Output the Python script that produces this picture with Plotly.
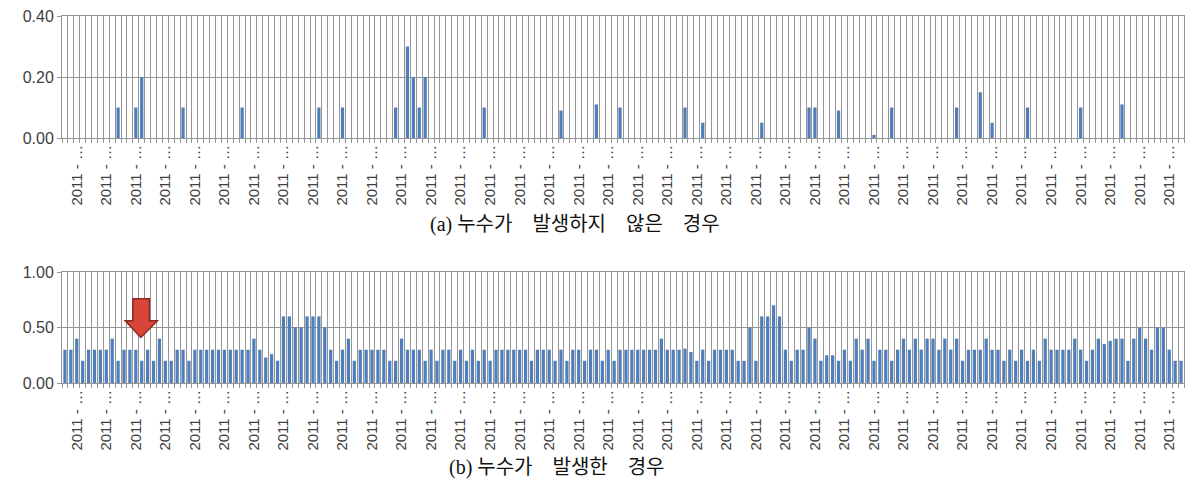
import plotly.graph_objects as go

# ---------------- data ----------------
# (a) no leakage: 190 time steps
values_a = [
    0, 0, 0, 0, 0, 0, 0, 0, 0, 0.10,
    0, 0, 0.10, 0.20, 0, 0, 0, 0, 0, 0,
    0.10, 0, 0, 0, 0, 0, 0, 0, 0, 0,
    0.10, 0, 0, 0, 0, 0, 0, 0, 0, 0,
    0, 0, 0, 0.10, 0, 0, 0, 0.10, 0, 0,
    0, 0, 0, 0, 0, 0, 0.10, 0, 0.30, 0.20,
    0.10, 0.20, 0, 0, 0, 0, 0, 0, 0, 0,
    0, 0.10, 0, 0, 0, 0, 0, 0, 0, 0,
    0, 0, 0, 0, 0.09, 0, 0, 0, 0, 0,
    0.11, 0, 0, 0, 0.10, 0, 0, 0, 0, 0,
    0, 0, 0, 0, 0, 0.10, 0, 0, 0.05, 0,
    0, 0, 0, 0, 0, 0, 0, 0, 0.05, 0,
    0, 0, 0, 0, 0, 0, 0.10, 0.10, 0, 0,
    0, 0.09, 0, 0, 0, 0, 0, 0.01, 0, 0,
    0.10, 0, 0, 0, 0, 0, 0, 0, 0, 0,
    0, 0.10, 0, 0, 0, 0.15, 0, 0.05, 0, 0,
    0, 0, 0, 0.10, 0, 0, 0, 0, 0, 0,
    0, 0, 0.10, 0, 0, 0, 0, 0, 0, 0.11,
    0, 0, 0, 0, 0, 0, 0, 0, 0, 0,
]

# (b) leakage: 190 time steps
values_b = [
    0.30, 0.30, 0.40, 0.20, 0.30, 0.30, 0.30, 0.30, 0.40, 0.20,
    0.30, 0.30, 0.30, 0.20, 0.30, 0.20, 0.40, 0.20, 0.20, 0.30,
    0.30, 0.20, 0.30, 0.30, 0.30, 0.30, 0.30, 0.30, 0.30, 0.30,
    0.30, 0.30, 0.40, 0.30, 0.23, 0.26, 0.20, 0.60, 0.60, 0.50,
    0.50, 0.60, 0.60, 0.60, 0.50, 0.30, 0.20, 0.30, 0.40, 0.20,
    0.30, 0.30, 0.30, 0.30, 0.30, 0.20, 0.20, 0.40, 0.30, 0.30,
    0.30, 0.20, 0.30, 0.20, 0.30, 0.30, 0.20, 0.30, 0.20, 0.30,
    0.20, 0.30, 0.20, 0.30, 0.30, 0.30, 0.30, 0.30, 0.30, 0.20,
    0.30, 0.30, 0.30, 0.20, 0.30, 0.20, 0.30, 0.30, 0.20, 0.30,
    0.30, 0.20, 0.30, 0.20, 0.30, 0.30, 0.30, 0.30, 0.30, 0.30,
    0.30, 0.40, 0.30, 0.30, 0.30, 0.31, 0.28, 0.20, 0.30, 0.20,
    0.30, 0.30, 0.30, 0.30, 0.20, 0.20, 0.50, 0.20, 0.60, 0.60,
    0.70, 0.60, 0.30, 0.20, 0.30, 0.30, 0.50, 0.40, 0.20, 0.25,
    0.25, 0.20, 0.30, 0.20, 0.40, 0.30, 0.40, 0.20, 0.30, 0.30,
    0.20, 0.30, 0.40, 0.30, 0.40, 0.30, 0.40, 0.40, 0.30, 0.40,
    0.30, 0.40, 0.20, 0.30, 0.30, 0.30, 0.40, 0.30, 0.30, 0.20,
    0.30, 0.20, 0.30, 0.20, 0.30, 0.20, 0.40, 0.30, 0.30, 0.30,
    0.30, 0.40, 0.30, 0.20, 0.30, 0.40, 0.35, 0.38, 0.40, 0.40,
    0.20, 0.40, 0.50, 0.40, 0.30, 0.50, 0.50, 0.30, 0.20, 0.20,
]

categories = list(range(len(values_a)))
tick_label = "2011 - \u2026"
label_start, label_step = 2, 5
tick_positions = categories[label_start::label_step]
tick_labels = [tick_label] * len(tick_positions)

titles = ["(a) 누수가\u2003발생하지\u2003않은\u2003경우", "(b) 누수가\u2003발생한\u2003경우"]

# ---------------- figure ----------------
W, H = 1189, 490
BAR = "#4F7EBD"
GRID = "#959595"
TXT = "#404040"

fig = go.Figure()
fig.add_trace(go.Bar(x=categories, y=values_a, marker=dict(color=BAR, line=dict(width=0)),
                     xaxis="x", yaxis="y", hoverinfo="y"))
fig.add_trace(go.Bar(x=categories, y=values_b, marker=dict(color=BAR, line=dict(width=0)),
                     xaxis="x2", yaxis="y2", hoverinfo="y"))

left, right = 62, 1184
def dom_y(top, bottom):
    return [1 - bottom / H, 1 - top / H]

xcommon = dict(
    range=[-0.5, len(categories) - 0.5],
    tickmode="array", tickvals=tick_positions, ticktext=tick_labels,
    tickangle=-90, tickfont=dict(family="Liberation Sans, Arial", size=15, color=TXT),
    ticks="", showgrid=False, zeroline=False,
    showline=True, linecolor=GRID, linewidth=1, mirror=True,
    minor=dict(tickmode="linear", tick0=-0.5, dtick=1, ticks="outside", ticklen=4,
               tickcolor=GRID, tickwidth=1, showgrid=True, gridcolor=GRID, gridwidth=1),
    automargin=False, fixedrange=True,
)
ycommon = dict(
    tickformat=".2f", ticks="outside", ticklen=4, tickcolor=GRID,
    tickfont=dict(family="Liberation Sans, Arial", size=16, color=TXT),
    showgrid=True, gridcolor=GRID, gridwidth=1, zeroline=False,
    showline=True, linecolor=GRID, linewidth=1, mirror=True,
    automargin=False, fixedrange=True,
)

fig.update_layout(
    width=W, height=H,
    margin=dict(l=left, r=W - right, t=0, b=0),
    paper_bgcolor="white", plot_bgcolor="white",
    showlegend=False, bargap=0.45,
    xaxis=dict(domain=[0, 1], anchor="y", **xcommon),
    yaxis=dict(domain=dom_y(16, 138), range=[0, 0.40], dtick=0.20, anchor="x", **ycommon),
    xaxis2=dict(domain=[0, 1], anchor="y2", **xcommon),
    yaxis2=dict(domain=dom_y(272, 383), range=[0, 1.00], dtick=0.50, anchor="x2", **ycommon),
)

cap_font = dict(family="Liberation Serif, Noto Sans CJK KR", size=20, color="#111111")
fig.add_annotation(text=titles[0], xref="paper", yref="paper",
                   x=(575 - left) / (right - left), y=1 - 225 / H,
                   xanchor="center", yanchor="middle", showarrow=False, font=cap_font)
fig.add_annotation(text=titles[1], xref="paper", yref="paper",
                   x=(557 - left) / (right - left), y=1 - 467 / H,
                   xanchor="center", yanchor="middle", showarrow=False, font=cap_font)

# red block arrow marking leak onset
fig.add_shape(type="path", xref="x2", yref="y2",
              path="M 11.5,0.76 L 14.3,0.76 L 14.3,0.56 L 15.65,0.56 L 12.85,0.41 "
                   "L 10.2,0.56 L 11.5,0.56 Z",
              fillcolor="#D8463A", line=dict(color="#8E2A22", width=1.5))

fig.write_html("out.html", config={"displayModeBar": False},
               post_script="document.body.style.margin='0';document.body.style.overflow='hidden';")
